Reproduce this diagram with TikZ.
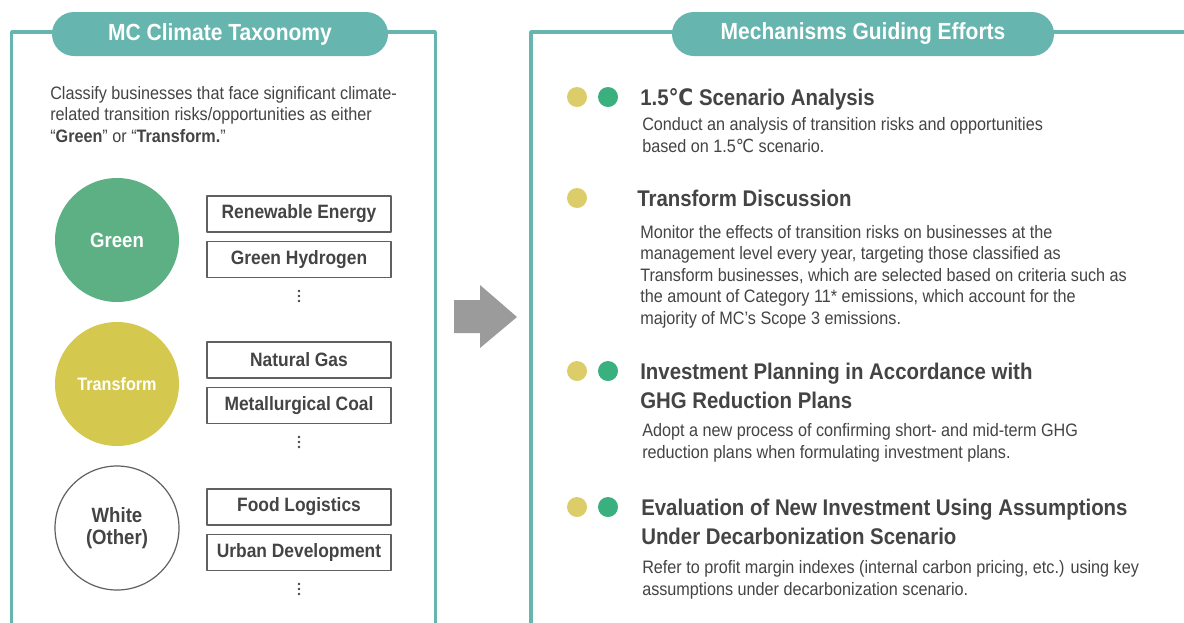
\documentclass[tikz,border=0pt]{standalone}
\usepackage{fontspec}
\setmainfont[FakeStretch=0.9]{Liberation Sans}
\newfontfamily\degfont[FakeStretch=0.9]{DejaVu Sans}
\usetikzlibrary{arrows,positioning}
\definecolor{tealframe}{HTML}{66B5AF}
\definecolor{greencirc}{HTML}{5DB083}
\definecolor{yellowcirc}{HTML}{D4C94E}
\definecolor{dotyellow}{HTML}{DDCD6A}
\definecolor{dotgreen}{HTML}{3BB07F}
\definecolor{darktext}{HTML}{444444}
\definecolor{arrowgray}{HTML}{9B9B9B}
\newcommand{\degC}{{\degfont ℃}}

\begin{document}
\begin{tikzpicture}[x=0.75pt,y=-0.75pt,line join=bevel,
  frame/.style={draw=tealframe,line width=2.3pt},
  pill/.style={fill=tealframe,rounded corners=16.5pt,minimum height=33pt,text=white,
    font=\fontsize{17.5}{20}\selectfont\bfseries},
  catcirc/.style={circle,minimum size=93pt,inner sep=0pt,font=\bfseries},
  bizbox/.style={draw=darktext!85,line width=1pt,minimum width=138pt,minimum height=27pt,
    inner sep=0pt,text=darktext,font=\fontsize{14.5}{16}\selectfont\bfseries},
  moredots/.style={fill=darktext},
  desc/.style={anchor=base west,align=left,inner sep=0pt,text=darktext,
    font=\fontsize{13.5}{16.1}\selectfont},
  headline/.style={anchor=base west,align=left,inner sep=0pt,text=darktext,
    font=\fontsize{17}{21.75}\selectfont\bfseries},
  bullet/.style={circle,minimum size=15pt,inner sep=0pt},
]
\useasboundingbox[fill=white] (0,0) rectangle (1184,622);

% frames
\draw[frame] (11.5,625) -- (11.5,32) -- (435.5,32) -- (435.5,625);
\draw[frame] (531,625) -- (531,32) -- (1187,32);

\node[pill,minimum width=252pt] (taxhead) at (220,34) {MC Climate Taxonomy};
\node[pill,minimum width=286.5pt] (mechhead) at (863,34) {Mechanisms Guiding Efforts};

% left side (base = last line)
\node[desc] (intro) at (50,142) {Classify businesses that face significant climate-\\
  related transition risks/opportunities as either\\
  ``\textbf{Green}'' or ``\textbf{Transform.}''};

\node[catcirc,fill=greencirc,text=white,font=\fontsize{15.5}{17}\selectfont\bfseries] (green) at (117,240) {Green};
\node[catcirc,fill=yellowcirc,text=white,font=\fontsize{13.5}{15}\selectfont\bfseries] (transform) at (117,384) {Transform};
\node[catcirc,draw=darktext!85,line width=0.9pt,text=darktext,align=center,
  font=\fontsize{15.5}{17}\selectfont\bfseries] (white) at (117,528) {White\\(Other)};

\node[bizbox] (renew) at (299,214) {Renewable Energy};
\node[bizbox,below=6pt of renew] (hydrogen) {Green Hydrogen};

\node[bizbox] (gas) at (299,360) {Natural Gas};
\node[bizbox,below=6pt of gas] (coal) {Metallurgical Coal};

\node[bizbox] (food) at (299,507) {Food Logistics};
\node[bizbox,below=6pt of food] (urban) {Urban Development};

% vertical dots under each list
\foreach \last in {hydrogen,coal,urban}{
  \coordinate (\last-more) at ([yshift=-13.5pt]\last.south);
  \foreach \d in {-5,0,5}
    \fill[moredots] ([yshift=-\d*0.75pt]\last-more) circle (1.1pt);
}

% arrow
\fill[arrowgray] (454,300) -- (480,300) -- (480,285) -- (517,317) -- (480,348)
  -- (480,333) -- (454,333) -- cycle;

% right side
\node[bullet,fill=dotyellow] (ya) at (577,97) {};
\node[bullet,fill=dotgreen] (ga) at (608,97) {};
\node[headline] (scen) at (640,105) {1.5\degC\ Scenario Analysis};
\node[desc] (scentext) at (642,152) {Conduct an analysis of transition risks and opportunities\\
  based on 1.5\degC\ scenario.};

\node[bullet,fill=dotyellow] (yb) at (577,198) {};
\node[headline] (disc) at (637,206) {Transform Discussion};
\node[desc] (disctext) at (640,324) {Monitor the effects of transition risks on businesses at the\\
  management level every year, targeting those classified as\\
  Transform businesses, which are selected based on criteria such as\\
  the amount of Category 11* emissions, which account for the\\
  majority of MC's Scope 3 emissions.};

\node[bullet,fill=dotyellow] (yc) at (577,371) {};
\node[bullet,fill=dotgreen] (gc) at (608,371) {};
\node[headline] (invest) at (640,408) {Investment Planning in Accordance with\\GHG Reduction Plans};
\node[desc] (investtext) at (642,458) {Adopt a new process of confirming short- and mid-term GHG\\
  reduction plans when formulating investment plans.};

\node[bullet,fill=dotyellow] (yd) at (577,507) {};
\node[bullet,fill=dotgreen] (gd) at (608,507) {};
\node[headline] (evalu) at (641,544) {Evaluation of New Investment Using Assumptions\\Under Decarbonization Scenario};
\node[desc] (evalutext) at (642,595) {Refer to profit margin indexes (internal carbon pricing, etc.) using key\\
  assumptions under decarbonization scenario.};

\end{tikzpicture}
\end{document}
